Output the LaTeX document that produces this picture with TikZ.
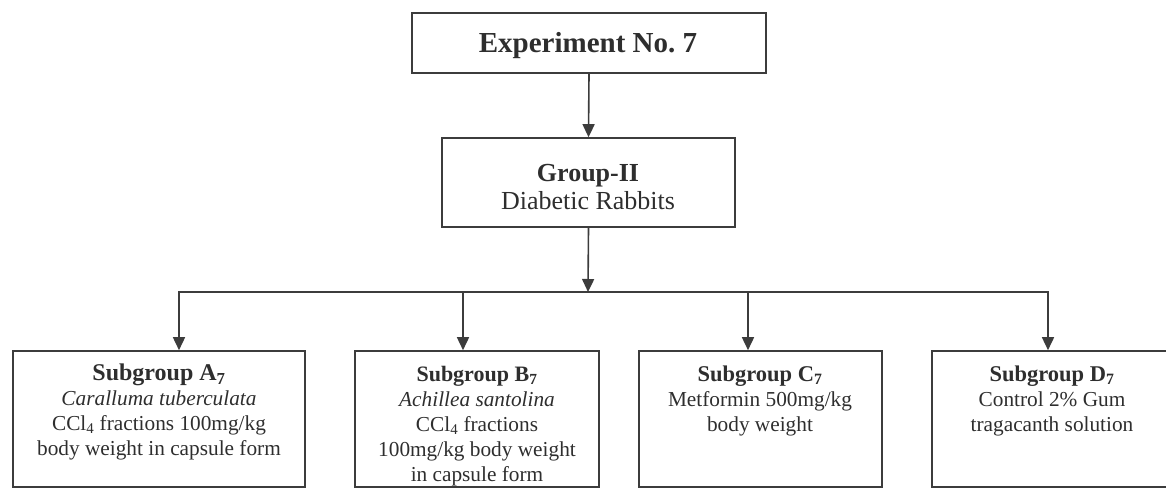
\documentclass[tikz,border=0pt]{standalone}
\usepackage{fontspec}
\setmainfont{Liberation Serif}
\usetikzlibrary{arrows.meta}
\definecolor{ink}{HTML}{2E2E2E}
\definecolor{linec}{HTML}{3C3C3C}
\begin{document}
\begin{tikzpicture}[x=1pt,y=-1pt,
  box/.style={draw=linec,line width=1.6pt,minimum width=#1,inner sep=0pt,fill=none},
  txt/.style={text=ink,inner sep=0pt,align=center},
  arr/.style={draw=linec,line width=1.6pt,-{Triangle[length=13pt,width=12pt]}},
  ln/.style={draw=linec,line width=1.6pt}]
\useasboundingbox (0,0) rectangle (1166,490);
% top
\node[box=354pt,minimum height=60pt] (E) at (589,43) {};
\node[txt,anchor=base,font=\fontsize{29}{32}\selectfont\bfseries] (Et) at (588,52) {Experiment No.\ 7};
% group
\node[box=293pt,minimum height=89pt] (G) at (588.5,182.5) {};
\node[txt,anchor=north,font=\fontsize{26}{28}\selectfont] (Gt) at (588,164) {\textbf{Group-II}\\Diabetic Rabbits};
% subgroups
\node[box=292pt,minimum height=136pt] (A) at (159,419) {};
\node[box=244pt,minimum height=136pt] (B) at (477,419) {};
\node[box=243pt,minimum height=136pt] (C) at (760.5,419) {};
\node[box=240pt,minimum height=136pt] (D) at (1052,419) {};
\node[txt,anchor=north,font=\fontsize{21.3}{25}\selectfont] (At) at (159,364)
  {{\fontsize{24}{25}\selectfont\bfseries Subgroup A\textsubscript{7}}\\
   \textit{Caralluma tuberculata}\\
   CCl\textsubscript{4} fractions 100mg/kg\\
   body weight in capsule form};
\node[txt,anchor=north,font=\fontsize{21.3}{25}\selectfont] (Bt) at (477,366)
  {{\fontsize{22}{25}\selectfont\bfseries Subgroup B\textsubscript{7}}\\
   \textit{Achillea santolina}\\
   CCl\textsubscript{4} fractions\\
   100mg/kg body weight\\
   in capsule form};
\node[txt,anchor=north,font=\fontsize{21.3}{25}\selectfont] (Ct) at (760,366)
  {{\fontsize{22.5}{25}\selectfont\bfseries Subgroup C\textsubscript{7}}\\
   Metformin 500mg/kg\\
   body weight};
\node[txt,anchor=north,font=\fontsize{21.3}{25}\selectfont] (Dt) at (1052,366)
  {{\fontsize{22.5}{25}\selectfont\bfseries Subgroup D\textsubscript{7}}\\
   Control 2\% Gum\\
   tragacanth solution};
% connectors
\coordinate (j) at (588,292);
\draw[arr] (E.south) -- (G.north);
\draw[arr] (G.south) -- (j);
\draw[arr] (j) -| ([xshift=20pt]A.north);
\draw[arr] (j) -| ([xshift=-14pt]B.north);
\draw[arr] (j) -| ([xshift=-12.5pt]C.north);
\draw[arr] (j) -| ([xshift=-4pt]D.north);
\end{tikzpicture}
\end{document}
